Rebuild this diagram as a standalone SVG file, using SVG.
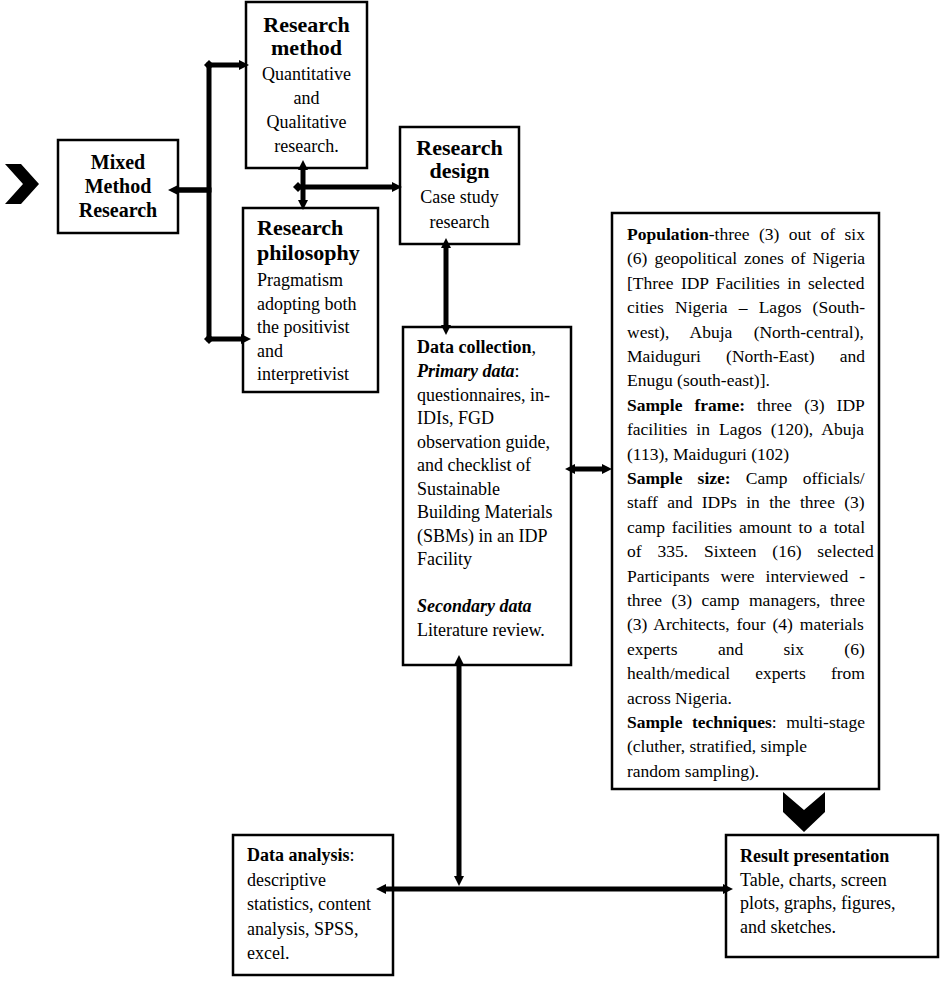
<svg xmlns="http://www.w3.org/2000/svg" width="941" height="981" viewBox="0 0 941 981">
<style>
  .box { fill: #fff; stroke: #000; stroke-width: 2.5; }
  .t { font-family: "Liberation Serif", "Times New Roman", serif; font-size: 18px; fill: #000; }
  .tp { font-family: "Liberation Serif", "Times New Roman", serif; font-size: 17.5px; fill: #000; }
  .h { font-family: "Liberation Serif", "Times New Roman", serif; font-size: 22px; font-weight: bold; fill: #000; }
  .hm { font-family: "Liberation Serif", "Times New Roman", serif; font-size: 20px; font-weight: bold; fill: #000; }
  .c { text-anchor: middle; }
  .b { font-weight: bold; }
  .bi { font-weight: bold; font-style: italic; }
  .i { font-style: italic; }
  .conn { fill: none; stroke: #000; stroke-width: 5; }
  .chev { fill: #000; }
</style>
<defs>
  <marker id="ah" viewBox="0 0 10 10" markerWidth="10" markerHeight="10" markerUnits="userSpaceOnUse" refX="4" refY="5" orient="auto-start-reverse">
    <path d="M0,0 L10,5 L0,10 z" fill="#000"/>
  </marker>
  <marker id="dm" viewBox="0 0 10 10" markerWidth="10" markerHeight="10" markerUnits="userSpaceOnUse" refX="5" refY="5" orient="auto">
    <path d="M0,5 L5,0 L10,5 L5,10 z" fill="#000"/>
  </marker>
</defs>

<polygon class="chev" points="5,164 21,164 39,184 21,204 5,204 23,184"/>

<g id="mixed-method">
  <rect class="box" x="58" y="140" width="120" height="93"/>
  <text class="hm c" x="118" y="169">Mixed</text>
  <text class="hm c" x="118" y="193">Method</text>
  <text class="hm c" x="118" y="217">Research</text>
</g>

<g id="research-method">
  <rect class="box" x="246" y="2" width="121" height="166"/>
  <text class="h c" x="306.5" y="32">Research</text>
  <text class="h c" x="306.5" y="55">method</text>
  <text class="t c" x="306.5" y="80">Quantitative</text>
  <text class="t c" x="306.5" y="104">and</text>
  <text class="t c" x="306.5" y="128">Qualitative</text>
  <text class="t c" x="306.5" y="152">research.</text>
</g>

<g id="research-philosophy">
  <rect class="box" x="243" y="208" width="135" height="184"/>
  <text class="h" x="257" y="235">Research</text>
  <text class="h" x="257" y="260">philosophy</text>
  <text class="t" x="257" y="286">Pragmatism</text>
  <text class="t" x="257" y="309.5">adopting both</text>
  <text class="t" x="257" y="333">the positivist</text>
  <text class="t" x="257" y="356.5">and</text>
  <text class="t" x="257" y="380">interpretivist</text>
</g>

<g id="research-design">
  <rect class="box" x="400" y="127" width="119" height="117"/>
  <text class="h c" x="459.5" y="155">Research</text>
  <text class="h c" x="459.5" y="178">design</text>
  <text class="t c" x="459.5" y="203">Case study</text>
  <text class="t c" x="459.5" y="228">research</text>
</g>

<g id="data-collection">
  <rect class="box" x="403" y="327" width="168" height="338"/>
  <text class="t" x="417" y="353"><tspan class="b">Data collection</tspan>,</text>
  <text class="t" x="417" y="377"><tspan class="bi">Primary data</tspan>:</text>
  <text class="t" x="417" y="400.5">questionnaires, in-</text>
  <text class="t" x="417" y="424">IDIs, FGD</text>
  <text class="t" x="417" y="447.5">observation guide,</text>
  <text class="t" x="417" y="471">and checklist of</text>
  <text class="t" x="417" y="494.5">Sustainable</text>
  <text class="t" x="417" y="518">Building Materials</text>
  <text class="t" x="417" y="541.5">(SBMs) in an IDP</text>
  <text class="t" x="417" y="565">Facility</text>
  <text class="t" x="417" y="612"><tspan class="bi">Secondary data</tspan></text>
  <text class="t" x="417" y="635.5">Literature review.</text>
</g>

<g id="population">
  <rect class="box" x="612" y="213" width="267" height="576"/>
  <text class="tp" x="627" y="240" word-spacing="5.05"><tspan class="b">Population</tspan>-three (3) out of six</text>
  <text class="tp" x="627" y="264.4" word-spacing="2.65">(6) geopolitical zones of Nigeria</text>
  <text class="tp" x="627" y="288.8" word-spacing="2.9">[Three IDP Facilities in selected</text>
  <text class="tp" x="627" y="313.2" word-spacing="6.8">cities Nigeria – Lagos (South-</text>
  <text class="tp" x="627" y="337.6" word-spacing="16.9">west), Abuja (North-central),</text>
  <text class="tp" x="627" y="362" word-spacing="20.8">Maiduguri (North-East) and</text>
  <text class="tp" x="627" y="386.4">Enugu (south-east)].</text>
  <text class="tp" x="627" y="410.8" word-spacing="7.7"><tspan class="b">Sample frame:</tspan> three (3) IDP</text>
  <text class="tp" x="627" y="435.2" word-spacing="4.7">facilities in Lagos (120), Abuja</text>
  <text class="tp" x="627" y="459.6">(113), Maiduguri (102)</text>
  <text class="tp" x="627" y="484" word-spacing="10.8"><tspan class="b">Sample size:</tspan> Camp officials/</text>
  <text class="tp" x="627" y="508.4" word-spacing="5">staff and IDPs in the three (3)</text>
  <text class="tp" x="627" y="532.8" word-spacing="2.6">camp facilities amount to a total</text>
  <text class="tp" x="627" y="557.2" word-spacing="11.5">of 335. Sixteen (16) selected</text>
  <text class="tp" x="627" y="581.6" word-spacing="6.6">Participants were interviewed -</text>
  <text class="tp" x="627" y="606" word-spacing="5.2">three (3) camp managers, three</text>
  <text class="tp" x="627" y="630.4" word-spacing="2.5">(3) Architects, four (4) materials</text>
  <text class="tp" x="627" y="654.8" word-spacing="36">experts and six (6)</text>
  <text class="tp" x="627" y="679.2" word-spacing="20.8">health/medical experts from</text>
  <text class="tp" x="627" y="703.6">across Nigeria.</text>
  <text class="tp" x="627" y="728" word-spacing="5.2"><tspan class="b">Sample techniques</tspan>: multi-stage</text>
  <text class="tp" x="627" y="752.4">(cluther, stratified, simple</text>
  <text class="tp" x="627" y="776.8">random sampling).</text>
</g>

<polygon class="chev" points="783,792 804,810 825,792 825,812 804,832 783,812"/>

<g id="data-analysis">
  <rect class="box" x="233" y="835" width="160" height="140"/>
  <text class="t" x="247" y="861"><tspan class="b">Data analysis</tspan>:</text>
  <text class="t" x="247" y="885.5">descriptive</text>
  <text class="t" x="247" y="910">statistics, content</text>
  <text class="t" x="247" y="934.5">analysis, SPSS,</text>
  <text class="t" x="247" y="959">excel.</text>
</g>

<g id="result-presentation">
  <rect class="box" x="726" y="835" width="212" height="122"/>
  <text class="t" x="740" y="862"><tspan class="b">Result presentation</tspan></text>
  <text class="t" x="740" y="885.5">Table, charts, screen</text>
  <text class="t" x="740" y="909">plots, graphs, figures,</text>
  <text class="t" x="740" y="932.5">and sketches.</text>
</g>

<g id="connectors">
  <path class="conn" d="M174,190 H209 V65 H243" marker-start="url(#ah)" marker-end="url(#ah)"/>
  <path class="conn" d="M174,190 H209 V339 H245" marker-end="url(#ah)"/>
  <path class="conn" d="M209,65 h0.01" marker-start="url(#dm)"/>
  <path class="conn" d="M209,339 h0.01" marker-start="url(#dm)"/>
  <path class="conn" d="M303,166 V204" marker-start="url(#ah)" marker-end="url(#ah)"/>
  <path class="conn" d="M298,187 H396" marker-start="url(#dm)" marker-end="url(#ah)"/>
  <path class="conn" d="M446,244 V329" marker-start="url(#ah)" marker-end="url(#ah)"/>
  <path class="conn" d="M571,469 H606" marker-start="url(#ah)" marker-end="url(#ah)"/>
  <path class="conn" d="M459,661 V880" marker-start="url(#ah)" marker-end="url(#ah)"/>
  <path class="conn" d="M382,889 H727" marker-start="url(#ah)" marker-end="url(#ah)"/>
</g>
</svg>
